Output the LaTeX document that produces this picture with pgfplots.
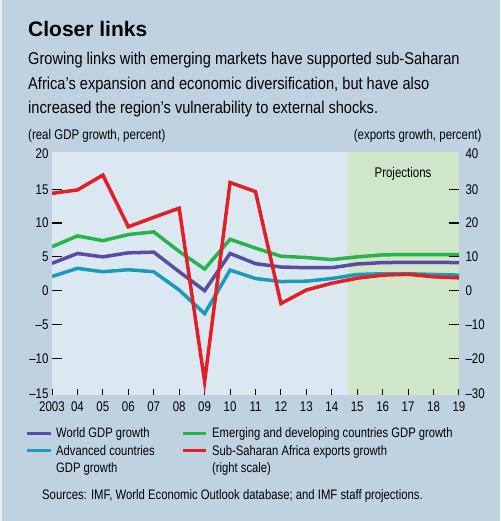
\documentclass[border=0pt]{standalone}
\usepackage{fontspec}
\setmainfont{Liberation Sans}[FakeStretch=0.82]
\newfontfamily\bodyfont{Liberation Sans}[FakeStretch=0.86]
\newfontfamily\titlefont{Liberation Sans}
\usepackage{pgfplots}
\pgfplotsset{compat=1.18}
\definecolor{outerbg}{RGB}{190,210,226}
\definecolor{plotbg}{RGB}{220,232,241}
\definecolor{projcol}{RGB}{208,230,200}
\definecolor{sred}{RGB}{227,30,36}
\definecolor{sgreen}{RGB}{40,180,75}
\definecolor{spurple}{RGB}{90,75,165}
\definecolor{sblue}{RGB}{25,155,185}
\pgfplotstableread{
year world emde adv
2003 4.05 6.5 2.1
2004 5.5 8.1 3.3
2005 5.0 7.4 2.8
2006 5.6 8.3 3.1
2007 5.7 8.7 2.8
2008 2.8 5.8 0.1
2009 0.0 3.2 -3.4
2010 5.5 7.6 3.05
2011 4.0 6.3 1.8
2012 3.5 5.1 1.35
2013 3.4 4.9 1.4
2014 3.4 4.6 1.8
2015 3.95 5.0 2.4
2016 4.15 5.3 2.5
2017 4.2 5.35 2.5
2018 4.2 5.35 2.4
2019 4.15 5.35 2.3
}\gdp
\pgfplotstableread{
year exp
2003 28.8
2004 29.8
2005 34.2
2006 18.9
2007 21.7
2008 24.4
2009 -26.9
2010 32.0
2011 29.3
2012 -3.8
2013 0.2
2014 2.2
2015 3.7
2016 4.6
2017 4.85
2018 4.1
2019 3.8
}\exports
\pgfplotsset{
  commonaxis/.style={
    at={(52pt,126pt)}, anchor=south west,
    scale only axis, width=407pt, height=242.7pt,
    xmin=2003, xmax=2019,
    axis line style={draw=none},
    tick align=inside,
    tick label style={font=\fontsize{14}{16}\selectfont},
  }
}
\begin{document}
\begin{tikzpicture}[x=1pt,y=1pt]
\fill[outerbg] (0,0) rectangle (500,521);
\fill[plotbg!70!white] (0,0) rectangle (1.5,521);
\node[anchor=base west, inner sep=0, font=\titlefont\bfseries\fontsize{21}{24}\selectfont] at (28,484.3) {Closer links};
\begin{scope}[every node/.style={anchor=base west, inner sep=0, font=\bodyfont\fontsize{17}{20}\selectfont}]
\node at (28,456) {Growing links with emerging markets have supported sub-Saharan};
\node at (28,431) {Africa’s expansion and economic diversification, but have also};
\node at (28,407.7) {increased the region’s vulnerability to external shocks.};
\end{scope}
\node[anchor=base west, inner sep=0, font=\fontsize{14}{16}\selectfont] at (28,381.5) {(real GDP growth, percent)};
\node[anchor=base east, inner sep=0, font=\fontsize{14}{16}\selectfont] at (481.7,381.5) {(exports growth, percent)};
% left axis with GDP series
\begin{axis}[commonaxis,
  ymin=-15.43, ymax=20.47,
  axis background/.style={fill=plotbg},
  major tick length=10pt,
  tick style={black, line width=1.2pt},
  xtick={2003,...,2019},
  xticklabels={2003,04,05,06,07,08,09,10,11,12,13,14,15,16,17,18,19},
  xtick style={draw=none},
  xtick pos=bottom, ytick pos=left,
  ytick={-10,-5,0,5,10,15},
  yticklabels={–10,–5,0,5,10,15},
  extra y ticks={-15.25,20.2}, extra y tick labels={–15,20},
  extra y tick style={major tick length=0pt},
  xticklabel style={yshift=-3pt},
]
\addplot[draw=none, fill=projcol, forget plot] coordinates {(2014.65,-15.43) (2014.65,20.47) (2019,20.47) (2019,-15.43)} -- cycle;
\addplot[sblue, line width=3.5pt] table[x=year, y=adv] {\gdp};
\addplot[spurple, line width=3.5pt] table[x=year, y=world] {\gdp};
\addplot[sgreen, line width=3.5pt] table[x=year, y=emde] {\gdp};
\end{axis}
\node[anchor=base, inner sep=0, font=\fontsize{14}{16}\selectfont] at (403,343) {Projections};
% x ticks only
\begin{axis}[commonaxis,
  ymin=-15.43, ymax=20.47,
  hide y axis,
  major tick length=6pt,
  tick style={black, line width=1pt},
  xtick={2003,...,2019}, xticklabels={},
  xtick pos=bottom,
]
\end{axis}
% right axis with exports
\begin{axis}[commonaxis,
  ymin=-30.86, ymax=40.94,
  hide x axis,
  major tick length=10pt,
  tick style={black, line width=1.2pt},
  ytick pos=right, yticklabel pos=right,
  ytick={-20,-10,0,10,20,30},
  yticklabels={–20,–10,0,10,20,30},
  extra y ticks={-30.5,40.4}, extra y tick labels={–30,40},
  extra y tick style={major tick length=0pt},
  yticklabel style={xshift=3pt},
]
\addplot[sred, line width=3.5pt] table[x=year, y=exp] {\exports};
\end{axis}
\begin{scope}[every node/.style={anchor=base west, inner sep=0, font=\fontsize{13.7}{16}\selectfont}]
\draw[spurple, line width=3pt] (27,87.7) -- (51,87.7);
\draw[sblue, line width=3pt] (27,70.3) -- (51,70.3);
\draw[sgreen, line width=3pt] (183,87.7) -- (206,87.7);
\draw[sred, line width=3pt] (183,70.3) -- (206,70.3);
\node at (56,83) {World GDP growth};
\node at (56,65.5) {Advanced countries};
\node at (56,48) {GDP growth};
\node at (212,83) {Emerging and developing countries GDP growth};
\node at (212,65.5) {Sub-Saharan Africa exports growth};
\node at (212,48) {(right scale)};
\end{scope}
\node[anchor=base west, inner sep=0, font=\fontsize{13.8}{15}\selectfont] at (42,21) {Sources: IMF, World Economic Outlook database; and IMF staff projections.};
\end{tikzpicture}
\end{document}
